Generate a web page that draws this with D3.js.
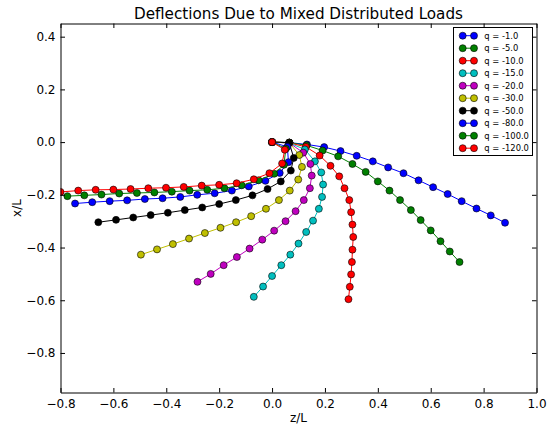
<!DOCTYPE html>
<html>
<head>
<meta charset="utf-8">
<script src="https://cdn.jsdelivr.net/npm/d3@7/dist/d3.min.js"></script>
<style>
  html, body { margin: 0; padding: 0; background: #fff; }
  svg { display: block; font-family: "DejaVu Sans", sans-serif; }
</style>
</head>
<body>
<svg id="chart" width="548" height="427"></svg>
<script>
// Load cases, one deflected shape per load
const loads = [-1.0, -5.0, -10.0, -15.0, -20.0, -30.0, -50.0, -80.0, -100.0, -120.0];
const colors = ["#0000ff", "#008000", "#ff0000", "#00bfbf", "#bf00bf", "#bfbf00", "#000000", "#0000ff", "#008000", "#ff0000"];

// z/L coordinates along the beam for each load
const zSeries = [
  [0, 0.066, 0.132, 0.197, 0.259, 0.320, 0.381, 0.439, 0.497, 0.554, 0.609, 0.664, 0.717, 0.773, 0.827, 0.881],
  [0, 0.065, 0.130, 0.191, 0.250, 0.304, 0.354, 0.400, 0.444, 0.484, 0.525, 0.562, 0.600, 0.637, 0.672, 0.709],
  [0, 0.065, 0.128, 0.180, 0.221, 0.254, 0.274, 0.292, 0.299, 0.304, 0.307, 0.304, 0.302, 0.299, 0.294, 0.289],
  [0, 0.065, 0.124, 0.162, 0.186, 0.193, 0.189, 0.177, 0.155, 0.129, 0.100, 0.069, 0.035, 0.000, -0.034, -0.069],
  [0, 0.065, 0.118, 0.145, 0.150, 0.143, 0.120, 0.089, 0.051, 0.008, -0.037, -0.085, -0.133, -0.183, -0.232, -0.282],
  [0, 0.065, 0.103, 0.113, 0.099, 0.067, 0.026, -0.023, -0.079, -0.136, -0.195, -0.254, -0.314, -0.375, -0.435, -0.496],
  [0, 0.065, 0.082, 0.071, 0.033, -0.017, -0.074, -0.137, -0.200, -0.264, -0.330, -0.394, -0.459, -0.525, -0.590, -0.657],
  [0, 0.058, 0.062, 0.029, -0.025, -0.088, -0.152, -0.217, -0.283, -0.347, -0.414, -0.481, -0.548, -0.614, -0.680, -0.745],
  [0, 0.052, 0.045, 0.008, -0.051, -0.115, -0.180, -0.245, -0.312, -0.379, -0.445, -0.511, -0.578, -0.645, -0.710, -0.774],
  [0, 0.048, 0.038, -0.010, -0.069, -0.134, -0.200, -0.266, -0.334, -0.401, -0.468, -0.535, -0.600, -0.667, -0.733, -0.800]
];

// x/L deflections matching the z/L coordinates above
const xSeries = [
  [0, -0.002, -0.009, -0.019, -0.034, -0.052, -0.073, -0.096, -0.118, -0.145, -0.171, -0.197, -0.224, -0.252, -0.278, -0.306],
  [0, -0.002, -0.012, -0.032, -0.054, -0.083, -0.113, -0.149, -0.184, -0.220, -0.258, -0.296, -0.335, -0.376, -0.415, -0.455],
  [0, -0.003, -0.018, -0.051, -0.090, -0.130, -0.175, -0.220, -0.266, -0.313, -0.360, -0.408, -0.455, -0.502, -0.549, -0.596],
  [0, -0.003, -0.028, -0.073, -0.115, -0.161, -0.208, -0.253, -0.298, -0.341, -0.385, -0.427, -0.467, -0.508, -0.548, -0.587],
  [0, -0.003, -0.040, -0.083, -0.127, -0.175, -0.220, -0.262, -0.300, -0.336, -0.370, -0.404, -0.436, -0.467, -0.500, -0.530],
  [0, -0.002, -0.049, -0.094, -0.142, -0.184, -0.220, -0.253, -0.281, -0.304, -0.325, -0.345, -0.366, -0.387, -0.407, -0.427],
  [0, -0.002, -0.060, -0.108, -0.149, -0.178, -0.202, -0.220, -0.235, -0.248, -0.258, -0.268, -0.277, -0.286, -0.295, -0.304],
  [0, -0.018, -0.076, -0.117, -0.147, -0.168, -0.184, -0.194, -0.200, -0.208, -0.213, -0.216, -0.221, -0.224, -0.228, -0.233],
  [0, -0.025, -0.086, -0.120, -0.145, -0.164, -0.175, -0.181, -0.184, -0.188, -0.191, -0.193, -0.195, -0.199, -0.202, -0.205],
  [0, -0.029, -0.081, -0.118, -0.141, -0.156, -0.162, -0.165, -0.170, -0.173, -0.175, -0.178, -0.180, -0.181, -0.184, -0.189]
];

const zTicks = [-0.8, -0.6, -0.4, -0.2, 0.0, 0.2, 0.4, 0.6, 0.8, 1.0];
const xTicks = [-0.8, -0.6, -0.4, -0.2, 0.0, 0.2, 0.4];

const svg = d3.select("#chart");
const plotLeft = 60.5, plotRight = 536.5, plotTop = 23.5, plotBottom = 392.5;

const sx = d3.scaleLinear().domain([-0.8, 1.0]).range([plotLeft, plotRight]);
const sy = d3.scaleLinear().domain([-0.95, 0.45]).range([plotBottom, plotTop]);

svg.append("defs").append("clipPath").attr("id", "plotClip")
  .append("rect").attr("x", plotLeft).attr("y", plotTop)
  .attr("width", plotRight - plotLeft).attr("height", plotBottom - plotTop);

// Deflected shapes: line then markers, series drawn in order
const plot = svg.append("g").attr("clip-path", "url(#plotClip)");
const line = d3.line().x(d => sx(d[0])).y(d => sy(d[1]));
const markerR = 3.5;

loads.forEach((q, i) => {
  const pts = zSeries[i].map((z, k) => [z, xSeries[i][k]]);
  const g = plot.append("g");
  g.append("path").datum(pts)
    .attr("d", line)
    .attr("fill", "none")
    .attr("stroke", colors[i])
    .attr("stroke-width", 1);
  g.selectAll("circle").data(pts).enter().append("circle")
    .attr("cx", d => sx(d[0]))
    .attr("cy", d => sy(d[1]))
    .attr("r", markerR)
    .attr("fill", colors[i])
    .attr("stroke", "#000")
    .attr("stroke-width", 0.6);
});

// Axes with inward ticks on all four sides
const fmt = d3.format(".1f");
const tickLen = 4.5;
function styleAxis(g) {
  g.selectAll(".domain").attr("stroke", "#000").attr("stroke-width", 1);
  g.selectAll(".tick line").attr("stroke", "#000").attr("stroke-width", 1);
  g.selectAll("text").attr("font-size", 12).attr("fill", "#000")
    .attr("font-family", "DejaVu Sans, sans-serif");
}

svg.append("g").attr("transform", `translate(0,${plotBottom})`)
  .call(d3.axisBottom(sx).tickValues(zTicks).tickFormat(fmt).tickSize(-tickLen).tickPadding(7).tickSizeOuter(0))
  .call(styleAxis);
svg.append("g").attr("transform", `translate(0,${plotTop})`)
  .call(d3.axisTop(sx).tickValues(zTicks).tickFormat("").tickSize(-tickLen).tickSizeOuter(0))
  .call(styleAxis);
svg.append("g").attr("transform", `translate(${plotLeft},0)`)
  .call(d3.axisLeft(sy).tickValues(xTicks).tickFormat(fmt).tickSize(-tickLen).tickPadding(5).tickSizeOuter(0))
  .call(styleAxis);
svg.append("g").attr("transform", `translate(${plotRight},0)`)
  .call(d3.axisRight(sy).tickValues(xTicks).tickFormat("").tickSize(-tickLen).tickSizeOuter(0))
  .call(styleAxis);

// Title and axis labels
svg.append("text")
  .attr("x", (plotLeft + plotRight) / 2).attr("y", 19.3)
  .attr("text-anchor", "middle").attr("font-size", 15.2)
  .text("Deflections Due to Mixed Distributed Loads");
svg.append("text")
  .attr("x", (plotLeft + plotRight) / 2).attr("y", 422)
  .attr("text-anchor", "middle").attr("font-size", 12)
  .text("z/L");
svg.append("text")
  .attr("transform", `translate(21,${(plotTop + plotBottom) / 2}) rotate(-90)`)
  .attr("text-anchor", "middle").attr("font-size", 12)
  .text("x/L");

// Legend
const leg = svg.append("g");
leg.append("rect")
  .attr("x", 453.5).attr("y", 27.5).attr("width", 79).attr("height", 128)
  .attr("fill", "#fff").attr("stroke", "#000").attr("stroke-width", 1);
loads.forEach((q, i) => {
  const cy = 35.7 + i * 12.5;
  const e = leg.append("g");
  e.append("line").attr("x1", 462.7).attr("x2", 474).attr("y1", cy).attr("y2", cy)
    .attr("stroke", colors[i]).attr("stroke-width", 1);
  [462.7, 474].forEach(cx => {
    e.append("circle").attr("cx", cx).attr("cy", cy).attr("r", markerR)
      .attr("fill", colors[i]).attr("stroke", "#000").attr("stroke-width", 0.6);
  });
  e.append("text").attr("x", 484.3).attr("y", cy).attr("dy", "0.35em")
    .attr("font-size", 8.4)
    .text(`q = ${q.toFixed(1)}`);
});
</script>
</body>
</html>
